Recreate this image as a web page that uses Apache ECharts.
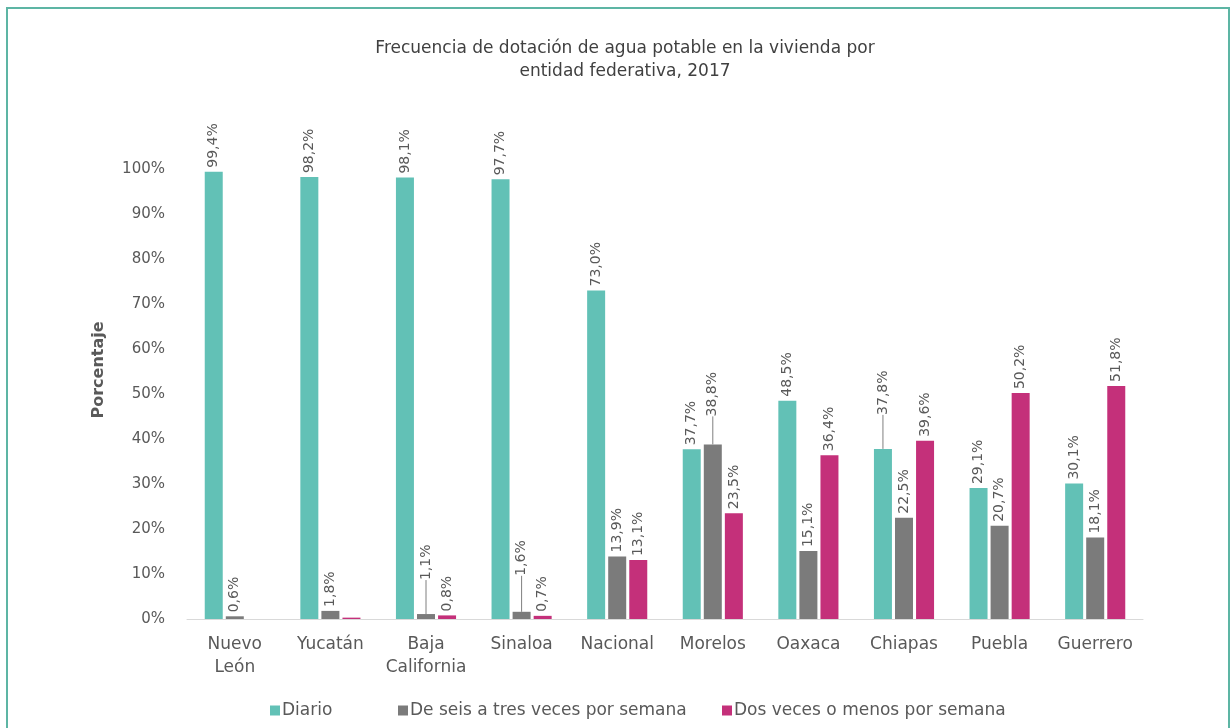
<!DOCTYPE html>
<html><head><meta charset="utf-8">
<script src="https://cdn.jsdelivr.net/npm/echarts@6/dist/echarts.min.js"></script>
<style>html,body{margin:0;padding:0;background:#fff}#c{width:1232px;height:728px}</style>
</head><body><div id="c"></div>
<script>
const categories = ['Nuevo\nLeón','Yucatán','Baja\nCalifornia','Sinaloa','Nacional','Morelos','Oaxaca','Chiapas','Puebla','Guerrero'];
const diario = [99.4, 98.2, 98.1, 97.7, 73.0, 37.7, 48.5, 37.8, 29.1, 30.1];
const seisTres = [0.6, 1.8, 1.1, 1.6, 13.9, 38.8, 15.1, 22.5, 20.7, 18.1];
const dosMenos = [null, 0.3, 0.8, 0.7, 13.1, 23.5, 36.4, 39.6, 50.2, 51.8];
const seriesNames = ['Diario','De seis a tres veces por semana','Dos veces o menos por semana'];
const yTicks = [0,10,20,30,40,50,60,70,80,90,100];
// labels moved up with a leader line: series index -> {dataIndex: shift}
const shifted = {0:{7:30}, 1:{2:30, 3:32, 5:24}};
const hiddenLabels = {2:[1]};

const FONT = '"DejaVu Sans", sans-serif';
const colors = ['#62C1B6','#7B7B7B','#C4307A'];
const fmt = v => v.toFixed(1).replace('.', ',') + '%';

function mkSeries(name, data, idx){
  return {
    name, type:'bar', data: data.map((v,i)=>{
      if (hiddenLabels[idx] && hiddenLabels[idx].includes(i)) return {value:v, label:{show:false}};
      if (shifted[idx] && shifted[idx][i] !== undefined) return {value:v, labelLine:{show:true}};
      return v;
    }),
    barWidth: 18, barGap: '17%',
    itemStyle:{color: colors[idx]},
    label:{show:true, position:'top', rotate:90, align:'left', verticalAlign:'middle', distance:4,
      color:'#595959', fontSize:14, fontFamily:FONT, formatter: p => fmt(p.value)},
    labelLine:{show:false, lineStyle:{color:'#7f7f7f', width:1}},
    labelLayout: function(p){
      const s = shifted[idx];
      if (s && s[p.dataIndex] !== undefined) return {dx: s[p.dataIndex]};
      return {};
    }
  };
}

const legendLefts = [265, 393, 717];
const chart = echarts.init(document.getElementById('c'));
chart.setOption({
  animation:false,
  title:{text:'Frecuencia de dotación de agua potable en la vivienda por\nentidad federativa, 2017', left:620, top:32, textAlign:'center',
    textStyle:{fontSize:17, fontWeight:'normal', color:'#404040', fontFamily:FONT, lineHeight:23}},
  legend: seriesNames.map((n,i)=>({data:[n], left:legendLefts[i], top:697, itemWidth:10, itemHeight:10, icon:'rect',
    textStyle:{fontSize:17, color:'#595959', fontFamily:FONT, padding:[0,0,0,-3]}})),
  grid:{left:187, right:89, top:169, bottom:109},
  xAxis:{type:'category', data:categories,
    axisLine:{lineStyle:{color:'#d9d9d9'}}, axisTick:{show:false},
    axisLabel:{fontSize:17, color:'#595959', fontFamily:FONT, margin:14, lineHeight:23, interval:0}},
  yAxis:{type:'value', min:0, max:100, interval:10,
    name:'Porcentaje', nameLocation:'middle', nameGap:80, nameRotate:90,
    nameTextStyle:{fontSize:16, fontWeight:'bold', color:'#595959', fontFamily:FONT, padding:[0,0,0,48]},
    axisLine:{show:false}, axisTick:{show:false}, splitLine:{show:false},
    axisLabel:{fontSize:15, color:'#595959', fontFamily:FONT, margin:22, formatter: v => yTicks.includes(v) ? v + '%' : ''}},
  graphic:[{type:'rect', shape:{x:7, y:8, width:1222, height:740}, style:{fill:'none', stroke:'#5DB5A4', lineWidth:2}, silent:true}],
  series:[mkSeries(seriesNames[0], diario, 0), mkSeries(seriesNames[1], seisTres, 1), mkSeries(seriesNames[2], dosMenos, 2)]
});
</script></body></html>
